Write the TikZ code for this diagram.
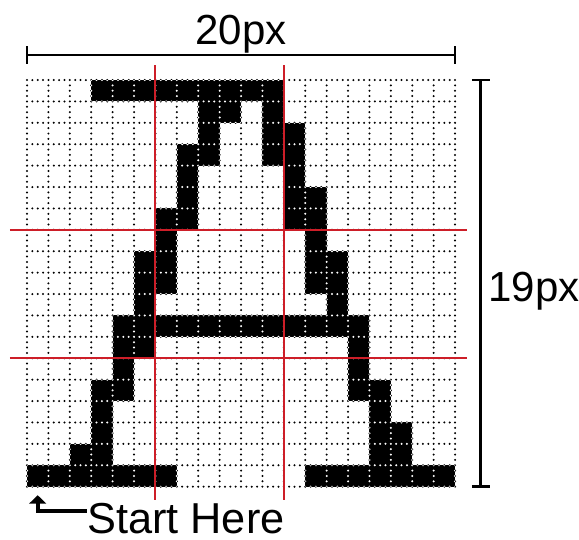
\documentclass[tikz,border=0pt]{standalone}
\usepackage{fontspec}
\setmainfont{Liberation Sans}
\usetikzlibrary{arrows.meta}

\definecolor{gridred}{RGB}{205,30,40}
\tikzset{
  gridline/.style={line width=1.6pt, line cap=round, dash pattern=on 0pt off 0.13375cm},
  whitegrid/.style={gridline, white},
  redline/.style={gridred, line width=1.4pt},
  dimline/.style={line width=2pt},
  startarrow/.style={line width=2.8pt, -{Triangle[width=12pt,length=6pt]}},
  label/.style={inner sep=0pt, font=\fontsize{29.9}{36}\selectfont}
}

% pixels of the letter: row / columns
\def\letterpixels{0/{3,...,11}, 1/{8,9,11}, 2/{8,11,12}, 3/{7,8,11,12}, 4/{7,12},
  5/{7,12,13}, 6/{6,7,12,13}, 7/{6,13}, 8/{5,6,13,14}, 9/{5,6,13,14}, 10/{5,14},
  11/{4,...,15}, 12/{4,5,15}, 13/{4,15}, 14/{3,4,15,16}, 15/{3,16}, 16/{3,16,17},
  17/{2,3,16,17}, 18/{0,1,2,3,4,5,6,13,14,15,16,17,18,19}}

\begin{document}
\begin{tikzpicture}[x=0.535cm, y=-0.535cm]
\useasboundingbox (-1.262,-3.738) rectangle (25.79,21.45);

% grid and pixels
\draw[gridline] (0,0) grid[step=0.535cm] (20,19);
\foreach \r/\cols in \letterpixels {
  \foreach \c in \cols { \fill (\c,\r) rectangle ++(1,1); }
}
\begin{scope}
  \clip \foreach \r/\cols in \letterpixels { \foreach \c in \cols { (\c,\r) rectangle ++(1,1) } };
  \draw[whitegrid] (0,0) grid[step=0.535cm] (20,19);
\end{scope}

% red guide lines
\foreach \x in {6,12} \draw[redline] (\x,-0.7) -- (\x,19.6);
\foreach \y in {7,13} \draw[redline] (-0.8,\y) -- (20.56,\y);

% width
\coordinate (wleft) at (0,-1.17);
\coordinate (wright) at (20,-1.17);
\draw[dimline] (wleft) -- (wright);
\draw[dimline] ([yshift=0.22cm]wleft) -- ([yshift=-0.22cm]wleft);
\draw[dimline] ([yshift=0.22cm]wright) -- ([yshift=-0.22cm]wright);
\node[label, anchor=base] (widthlabel) at (10,-1.68) {20px};

% height
\coordinate (htop) at (21.2,0);
\coordinate (hbottom) at (21.2,19);
\draw[dimline] (htop) -- (hbottom);
\draw[dimline] ([xshift=-0.22cm]htop) -- ([xshift=0.22cm]htop);
\draw[dimline] ([xshift=-0.22cm]hbottom) -- ([xshift=0.22cm]hbottom);
\node[label, anchor=base west] (heightlabel) at (21.54,10.37) {19px};

% start
\node[label, anchor=base west, font=\fontsize{30.8}{36}\selectfont] (start) at (2.8,21.2) {Start Here};
\coordinate (startcorner) at (0.5,20.14);
\coordinate (starttip) at (0.5,19.4);
\draw[startarrow] (start.west |- startcorner) -- (startcorner) -- (starttip);
\end{tikzpicture}
\end{document}
